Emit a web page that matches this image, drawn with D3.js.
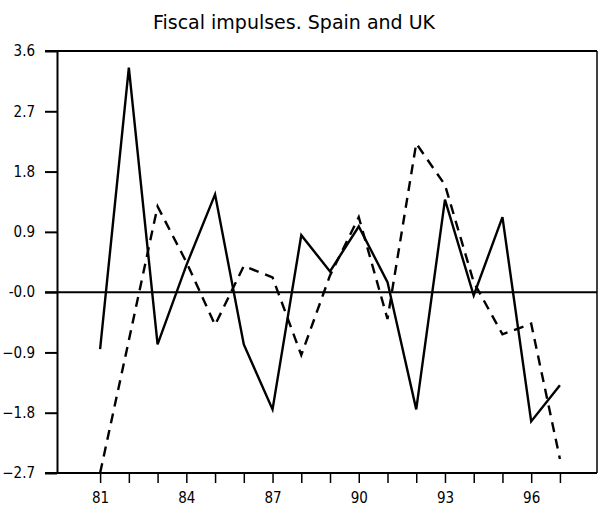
<!DOCTYPE html>
<html>
<head>
<meta charset="utf-8">
<script src="https://cdn.jsdelivr.net/npm/d3@7"></script>
<style>
  body { margin: 0; background: #fff; }
</style>
</head>
<body>
<div id="chart"></div>
<script>
// Fiscal impulses, Spain and UK
var years = [81, 82, 83, 84, 85, 86, 87, 88, 89, 90, 91, 92, 93, 94, 95, 96, 97];
var spain = [-0.85, 3.35, -0.78, 0.40, 1.46, -0.78, -1.75, 0.85, 0.31, 0.98, 0.15, -1.75, 1.38, -0.05, 1.12, -1.93, -1.39];
var uk = [-2.70, -0.72, 1.28, 0.45, -0.49, 0.39, 0.22, -0.94, 0.25, 1.12, -0.40, 2.22, 1.60, 0.15, -0.63, -0.47, -2.49];
var xTicks = [81, 84, 87, 90, 93, 96];
var yTicks = [-2.7, -1.8, -0.9, 0.0, 0.9, 1.8, 2.7, 3.6];

(function () {
var W = 598, H = 508;
var pLeft = 57, pRight = 597, pTop = 51, pBottom = 473;

var x = d3.scaleLinear().domain([79.5, 98.29]).range([pLeft, pRight]);
var y = d3.scaleLinear().domain([-2.7, 3.6]).range([pBottom, pTop]);

var svg = d3.select("#chart").append("svg")
    .attr("width", W)
    .attr("height", H);

svg.append("text")
    .attr("x", 294)
    .attr("y", 29)
    .attr("text-anchor", "middle")
    .style("font-family", "'DejaVu Sans', sans-serif")
    .style("font-size", "19px")
    .text("Fiscal impulses. Spain and UK");

// y axis, ticks poking out to the left
var yAxis = d3.axisLeft(y)
    .tickValues(yTicks)
    .tickSize(12)
    .tickSizeOuter(0)
    .tickPadding(10)
    .tickFormat(function(d) { return d === 0 ? "-0.0" : d3.format(".1f")(d); });

svg.append("g")
    .attr("transform", "translate(" + pLeft + ",0)")
    .call(yAxis)
    .call(function(g) {
      g.selectAll("line, path").attr("stroke", "#000").attr("stroke-width", 2);
      g.selectAll("text")
          .style("font-family", "'DejaVu Sans Condensed', 'DejaVu Sans', sans-serif")
          .style("font-size", "15px");
    });

// year ticks on the bottom, labels every third year
var xAxis = d3.axisBottom(x)
    .tickValues(years)
    .tickSize(10)
    .tickSizeOuter(0)
    .tickPadding(9)
    .tickFormat(function(d) { return xTicks.indexOf(d) >= 0 ? d : ""; });

svg.append("g")
    .attr("transform", "translate(0," + pBottom + ")")
    .call(xAxis)
    .call(function(g) {
      g.select(".domain").remove();
      g.selectAll("line").attr("stroke", "#000").attr("stroke-width", 1.5);
      g.selectAll("text")
          .style("font-family", "'DejaVu Sans Condensed', 'DejaVu Sans', sans-serif")
          .style("font-size", "15px");
    });

// frame lines
svg.append("line").attr("x1", 45).attr("x2", pRight).attr("y1", pBottom).attr("y2", pBottom)
    .attr("stroke", "#000").attr("stroke-width", 2);
svg.append("line").attr("x1", 45).attr("x2", pRight).attr("y1", pTop).attr("y2", pTop)
    .attr("stroke", "#000").attr("stroke-width", 2);
svg.append("line").attr("x1", pRight).attr("x2", pRight).attr("y1", pTop).attr("y2", pBottom)
    .attr("stroke", "#000").attr("stroke-width", 1.5);
svg.append("line").attr("x1", 45).attr("x2", pRight).attr("y1", y(0)).attr("y2", y(0))
    .attr("stroke", "#000").attr("stroke-width", 2);

var line = d3.line()
    .x(function(d) { return x(d[0]); })
    .y(function(d) { return y(d[1]); });

svg.append("path")
    .datum(d3.zip(years, spain))
    .attr("fill", "none")
    .attr("stroke", "#000")
    .attr("stroke-width", 2.4)
    .attr("d", line);

svg.append("path")
    .datum(d3.zip(years, uk))
    .attr("fill", "none")
    .attr("stroke", "#000")
    .attr("stroke-width", 2.4)
    .attr("stroke-dasharray", "10,7")
    .attr("d", line);
})();
</script>
</body>
</html>
